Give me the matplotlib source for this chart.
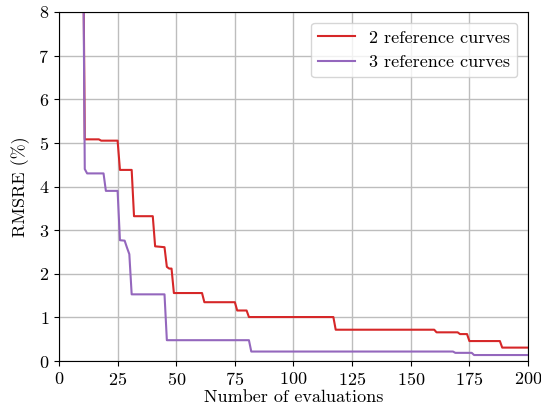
import numpy as np
import matplotlib
matplotlib.use("Agg")
import matplotlib.pyplot as plt

plt.rcParams['font.family'] = 'serif'
plt.rcParams['font.serif'] = ['cmr10']
plt.rcParams['mathtext.fontset'] = 'cm'
plt.rcParams['axes.formatter.use_mathtext'] = True
plt.rcParams['font.size'] = 13

# best RMSRE so far, vertices at the evaluations where it changes
evals_2 = [10, 11, 17, 18, 25, 26, 31, 32, 40, 41, 45, 46, 47, 48, 49,
           61, 62, 75, 76, 80, 81, 117, 118, 160, 161, 170, 171, 174, 175,
           188, 189, 200]
rmsre_2 = [12, 5.08, 5.08, 5.05, 5.05, 4.38, 4.38, 3.32, 3.32, 2.63, 2.61,
           2.16, 2.12, 2.12, 1.56, 1.56, 1.35, 1.35, 1.16, 1.16, 1.01, 1.01,
           0.72, 0.72, 0.66, 0.66, 0.62, 0.62, 0.46, 0.46, 0.31, 0.31]

evals_3 = [10, 11, 12, 19, 20, 25, 26, 28, 29, 30, 31, 45, 46, 81, 82,
           168, 169, 176, 177, 200]
rmsre_3 = [12, 4.40, 4.30, 4.30, 3.90, 3.90, 2.77, 2.76, 2.60, 2.45, 1.53,
           1.53, 0.48, 0.48, 0.22, 0.22, 0.19, 0.19, 0.14, 0.14]

fig = plt.figure(figsize=(5.41, 4.09), dpi=100)
ax = fig.add_axes([0.109, 0.117, 0.867, 0.854])
ax.plot(evals_2, rmsre_2, color='#d62728', lw=1.5, label='2 reference curves')
ax.plot(evals_3, rmsre_3, color='#9467bd', lw=1.5, label='3 reference curves')
ax.set_xlim(0, 200)
ax.set_ylim(0, 8)
ax.set_xticks(np.arange(0, 201, 25))
ax.set_yticks(np.arange(0, 9, 1))
ax.grid(True, color='#bdbdbd', lw=1)
ax.set_axisbelow(True)
ax.set_xlabel('Number of evaluations', labelpad=1)
ax.set_ylabel('RMSRE (%)', labelpad=6)
ax.legend(loc='upper right', borderaxespad=0.6)
fig.savefig('out.png', dpi=100)
